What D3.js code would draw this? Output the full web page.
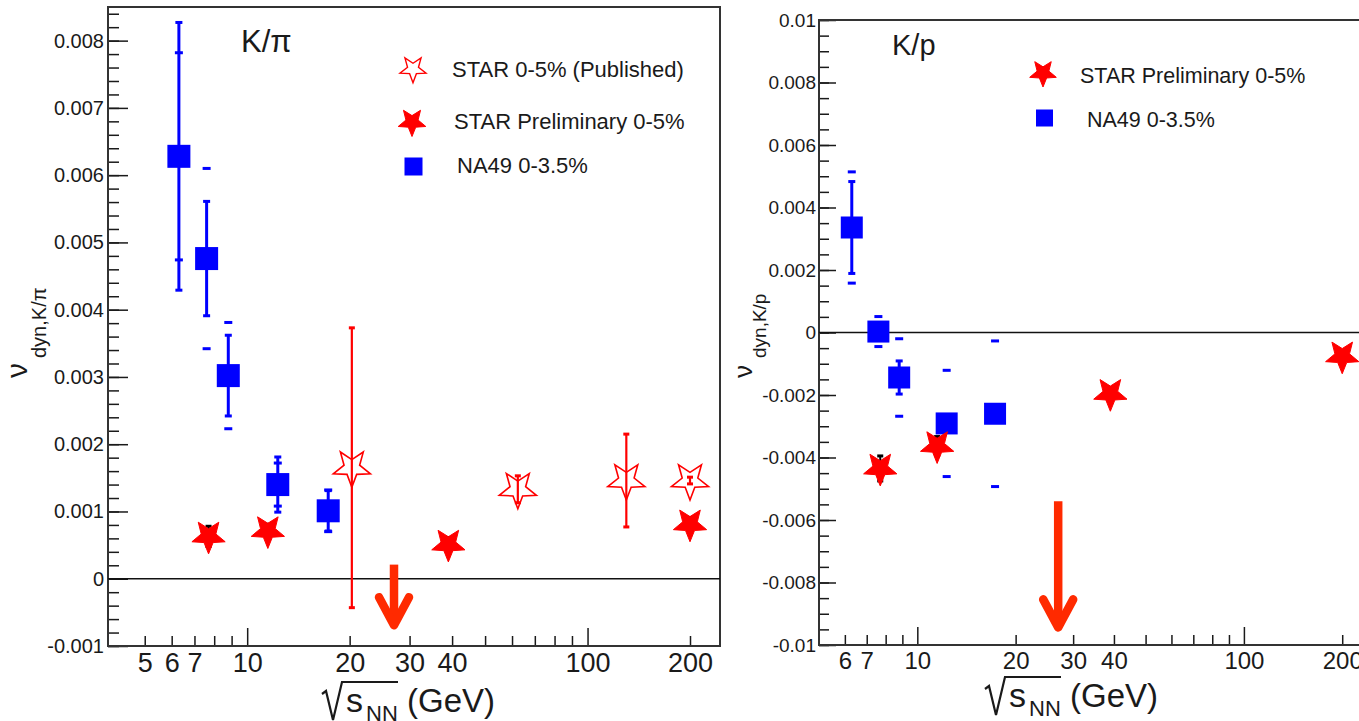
<!DOCTYPE html>
<html>
<head>
<meta charset="utf-8">
<script src="https://cdn.jsdelivr.net/npm/d3@7"></script>
<style>
body{margin:0;background:#fff;}
svg{display:block;font-family:"Liberation Sans",Arial,Helvetica,sans-serif;}
</style>
</head>
<body>
<svg id="chart" width="1359" height="721"></svg>
<script>
// K/pi panel
var kpiNa49Energy = [6.3, 7.6, 8.8, 12.3, 17.3];
var kpiNa49Value = [0.00628, 0.00476, 0.00302, 0.00140, 0.00101];
var kpiNa49Stat = [0.00199, 0.00085, 0.00060, 0.00041, 0.00030];
var kpiNa49Sys = [0.00154, 0.00134, 0.00079, 0.00032, 0.00031];
var kpiPubEnergy = [20.3, 62.4, 130, 200];
var kpiPubValue = [0.00165, 0.00133, 0.00146, 0.00146];
var kpiPubErr = [0.00208, 0.00020, 0.00069, 0.00005];
var kpiPrelEnergy = [7.7, 11.5, 39, 200];
var kpiPrelValue = [0.00063, 0.00071, 0.00051, 0.00081];
var kpiPrelErr = [0.00015, 0.00010, 0.00010, 0.00010];

// K/p panel
var kpNa49Energy = [6.3, 7.6, 8.8, 12.3, 17.3];
var kpNa49Value = [0.00336, 0.00003, -0.00144, -0.00291, -0.00260];
var kpNa49Stat = [0.00147, 0.00020, 0.00053, 0.00020, 0.00020];
var kpNa49Sys = [0.00178, 0.00048, 0.00124, 0.00170, 0.00233];
var kpPrelEnergy = [7.7, 11.5, 39, 200];
var kpPrelValue = [-0.00435, -0.00363, -0.00196, -0.00076];
var kpPrelErr = [0.00040, 0.00030, 0.00010, 0.00010];

// arrow at 27 GeV (value range of the arrow in each panel)
var arrowEnergy = 27;
var kpiArrow = [0.00021, -0.00072];
var kpArrow = [-0.0054, -0.0095];

// axis ticks
var kpiXTicks = [5,6,7,8,9,10,20,30,40,50,60,70,80,90,100,200];
var kpiXLabels = [5,6,7,10,20,30,40,100,200];
var kpXTicks = [6,7,8,9,10,20,30,40,50,60,70,80,90,100,200];
var kpXLabels = [6,7,10,20,30,40,100,200];
var majorX = [10,100];

var BLUE = '#0000ff', RED = '#ff0000', INK = '#1a1a1a';
var svg = d3.select('#chart');

function zip(e, v, a, b){
  return e.map(function(d,i){ return {e:d, v:v[i], a:a ? a[i] : 0, b:b ? b[i] : 0}; });
}
// five point star, point down, outer radius r
function starPath(r, inner){
  var pts = [];
  for (var i = 0; i < 10; i++){
    var rr = i % 2 ? r*inner : r, ang = Math.PI/2 + i*Math.PI/5;
    pts.push([rr*Math.cos(ang), rr*Math.sin(ang)]);
  }
  return 'M' + pts.map(function(p){ return p[0].toFixed(2)+','+p[1].toFixed(2); }).join('L') + 'Z';
}

function panel(cfg){
  var x = d3.scaleLog().domain(cfg.xDomain).range([cfg.l, cfg.r]);
  var y = d3.scaleLinear().domain(cfg.yDomain).range([cfg.b, cfg.t]);
  var g = svg.append('g');

  //x axis: minor ticks with labels, then longer decade ticks
  var labelSet = new Set(cfg.xLabels);
  var ax = g.append('g').attr('transform','translate(0,'+cfg.b+')')
    .call(d3.axisBottom(x).tickValues(cfg.xTicks).tickSize(-10).tickSizeOuter(0).tickPadding(7)
      .tickFormat(function(d){ return labelSet.has(d) ? d : ''; }));
  ax.select('.domain').remove();
  ax.selectAll('.tick line').attr('y2', function(d){ return majorX.indexOf(d) >= 0 ? -18 : -10; })
    .attr('stroke', INK).attr('stroke-width', 1.5);
  ax.selectAll('.tick text').attr('fill', INK).style('font-size', cfg.xFont+'px')
    .style('font-family','"Liberation Sans",Arial,sans-serif');

  //y axis
  var ayMinor = g.append('g').attr('transform','translate('+cfg.l+',0)')
    .call(d3.axisLeft(y).tickValues(cfg.yMinor).tickSize(-cfg.minorLen).tickSizeOuter(0).tickFormat(''));
  ayMinor.select('.domain').remove();
  ayMinor.selectAll('.tick line').attr('stroke', INK).attr('stroke-width', 1.5);
  var ay = g.append('g').attr('transform','translate('+cfg.l+',0)')
    .call(d3.axisLeft(y).tickValues(cfg.yMajor).tickSize(-cfg.majorLen).tickSizeOuter(0).tickPadding(cfg.yPad)
      .tickFormat(function(d){ return String(+d.toFixed(3)); }));
  ay.select('.domain').remove();
  ay.selectAll('.tick line').attr('stroke', INK).attr('stroke-width', 1.5);
  ay.selectAll('.tick text').attr('fill', INK).style('font-size', cfg.yFont+'px')
    .style('font-family','"Liberation Sans",Arial,sans-serif');

  //frame and zero line
  g.append('rect').attr('x', cfg.l).attr('y', cfg.t).attr('width', cfg.r-cfg.l).attr('height', cfg.b-cfg.t)
    .attr('fill','none').attr('stroke', '#333').attr('stroke-width', 2);
  g.append('line').attr('x1', cfg.l).attr('x2', cfg.r).attr('y1', y(0)).attr('y2', y(0))
    .attr('stroke', '#111').attr('stroke-width', 1.5);

  return {x:x, y:y, g:g};
}

function errBar(p, data, color, lw, capW, capH){
  var eb = p.g.append('g');
  eb.selectAll('line.eb').data(data).enter().append('line').attr('class','eb')
    .attr('x1', function(d){ return p.x(d.e); }).attr('x2', function(d){ return p.x(d.e); })
    .attr('y1', function(d){ return p.y(d.v + d.a); }).attr('y2', function(d){ return p.y(d.v - d.a); })
    .attr('stroke', color).attr('stroke-width', lw);
  [1,-1].forEach(function(s){
    eb.selectAll('rect.c'+s).data(data).enter().append('rect').attr('class','c'+s)
      .attr('x', function(d){ return p.x(d.e) - capW/2; })
      .attr('y', function(d){ return p.y(d.v + s*d.a) - capH/2; })
      .attr('width', capW).attr('height', capH).attr('fill', color);
  });
}
function sysDash(p, data, color){
  [1,-1].forEach(function(s){
    p.g.selectAll('rect.s'+s).data(data).enter().append('rect').attr('class','s'+s)
      .attr('x', function(d){ return p.x(d.e) - 4; })
      .attr('y', function(d){ return p.y(d.v + s*d.b) - 1.5; })
      .attr('width', 8).attr('height', 3).attr('fill', color);
  });
}
function squares(p, data, size){
  p.g.selectAll('rect.sq').data(data).enter().append('rect').attr('class','sq')
    .attr('x', function(d){ return p.x(d.e) - size/2; })
    .attr('y', function(d){ return p.y(d.v) - size/2; })
    .attr('width', size).attr('height', size).attr('fill', BLUE);
}
function stars(p, data, r, open){
  p.g.selectAll(null).data(data).enter().append('path')
    .attr('d', starPath(r, open ? 0.42 : 0.44))
    .attr('transform', function(d){ return 'translate('+p.x(d.e)+','+p.y(d.v)+')'; })
    .attr('fill', open ? 'none' : RED).attr('stroke', RED).attr('stroke-width', open ? 1.6 : 1);
}
function arrow(p, range){
  var ax = p.x(arrowEnergy), y0 = p.y(range[0]), y1 = p.y(range[1]);
  var a = p.g.append('g').attr('stroke', '#ff2a00').attr('stroke-width', 8.5)
    .attr('stroke-linecap','round').attr('stroke-linejoin','round').attr('fill','none');
  a.append('line').attr('x1', ax).attr('x2', ax).attr('y1', y0).attr('y2', y1 - 4).attr('stroke-linecap','butt');
  a.append('path').attr('d', 'M'+(ax-15)+','+(y1-30)+' L'+ax+','+(y1-2)+' L'+(ax+15)+','+(y1-30));
}
function text(x, y, str, size, anchor){
  return svg.append('text').attr('x', x).attr('y', y).attr('fill', INK)
    .attr('text-anchor', anchor || 'start').style('font-size', size+'px').text(str);
}
function legendStar(cx, cy, r, open){
  svg.append('path').attr('d', starPath(r, open ? 0.42 : 0.44))
    .attr('transform','translate('+cx+','+cy+')')
    .attr('fill', open ? 'none' : RED).attr('stroke', RED).attr('stroke-width', open ? 1.4 : 1);
}
function legendSquare(cx, cy, s){
  svg.append('rect').attr('x', cx-s/2).attr('y', cy-s/2).attr('width', s).attr('height', s).attr('fill', BLUE);
}
function xTitle(x0, base){
  var t = svg.append('g').attr('transform','translate('+x0+','+base+')');
  t.append('path').attr('d','M0,-18 L4,-21 L11,8 L20,-30 H76')
    .attr('fill','none').attr('stroke', INK).attr('stroke-width', 2.2).attr('stroke-linejoin','miter');
  t.append('text').attr('x', 24).attr('y', 0).style('font-size','34px').attr('fill', INK).text('s');
  t.append('text').attr('x', 44).attr('y', 9).style('font-size','22px').attr('fill', INK).text('NN');
  t.append('text').attr('x', 85).attr('y', 0).style('font-size','33px').attr('fill', INK).text('(GeV)');
}
function yTitle(x0, y0, big, small, sub, dx, dy){
  var t = svg.append('g').attr('transform','translate('+x0+','+y0+') rotate(-90)');
  t.append('text').attr('x', 0).attr('y', 0).style('font-size', big+'px').attr('fill', INK).text('\u03bd');
  t.append('text').attr('x', dx).attr('y', dy).style('font-size', small+'px').attr('fill', INK).text(sub);
}

// ---- left panel: K/pi
var left = panel({
  l:108, r:720, t:7, b:646,
  xDomain:[3.9, 245], yDomain:[-0.001, 0.0085],
  xTicks:kpiXTicks, xLabels:kpiXLabels, xFont:27,
  yMajor:d3.range(-1, 9).map(function(i){ return i/1000; }),
  yMinor:d3.range(-5, 43).map(function(i){ return i/5000; }),
  majorLen:20, minorLen:11, yPad:4, yFont:20
});
var kpiNa49 = zip(kpiNa49Energy, kpiNa49Value, kpiNa49Stat, kpiNa49Sys);
errBar(left, kpiNa49, BLUE, 3, 7, 3);
sysDash(left, kpiNa49, BLUE);
squares(left, kpiNa49, 23);
errBar(left, zip(kpiPrelEnergy, kpiPrelValue, kpiPrelErr), '#000', 2, 6, 3);
stars(left, zip(kpiPrelEnergy, kpiPrelValue), 17.5, false);
errBar(left, zip(kpiPubEnergy, kpiPubValue, kpiPubErr), RED, 2.2, 6, 3);
stars(left, zip(kpiPubEnergy, kpiPubValue), 19.5, true);
arrow(left, kpiArrow);

text(241, 52, 'K/\u03c0', 31);
legendStar(413, 69, 13.7, true);
text(452, 77, 'STAR 0-5% (Published)', 22);
legendStar(412, 122, 14.5, false);
text(454, 129, 'STAR Preliminary 0-5%', 22);
legendSquare(413.5, 166.5, 18);
text(457, 173, 'NA49 0-3.5%', 22);
xTitle(322, 712);
yTitle(27, 378, 30, 20, 'dyn,K/\u03c0', 20, 19);

// ---- right panel: K/p
var right = panel({
  l:819, r:1371, t:20, b:645,
  xDomain:[5, 245], yDomain:[-0.01, 0.01],
  xTicks:kpXTicks, xLabels:kpXLabels, xFont:24,
  yMajor:d3.range(-5, 6).map(function(i){ return i/500; }),
  yMinor:d3.range(-20, 21).map(function(i){ return i/2000; }),
  majorLen:17, minorLen:10, yPad:3, yFont:19
});
var kpNa49 = zip(kpNa49Energy, kpNa49Value, kpNa49Stat, kpNa49Sys);
errBar(right, kpNa49, BLUE, 3, 7, 3);
sysDash(right, kpNa49, BLUE);
squares(right, kpNa49, 22);
errBar(right, zip(kpPrelEnergy, kpPrelValue, kpPrelErr), '#000', 2, 6, 3);
stars(right, zip(kpPrelEnergy, kpPrelValue), 17.5, false);
arrow(right, kpArrow);

text(892, 55, 'K/p', 29);
legendStar(1043, 73, 14, false);
text(1080, 83, 'STAR Preliminary 0-5%', 21.5);
legendSquare(1044.5, 118, 17);
text(1087, 127, 'NA49 0-3.5%', 21.5);
xTitle(985, 707);
yTitle(752, 378, 26, 19, 'dyn,K/p', 20, 14);
</script>
</body>
</html>
